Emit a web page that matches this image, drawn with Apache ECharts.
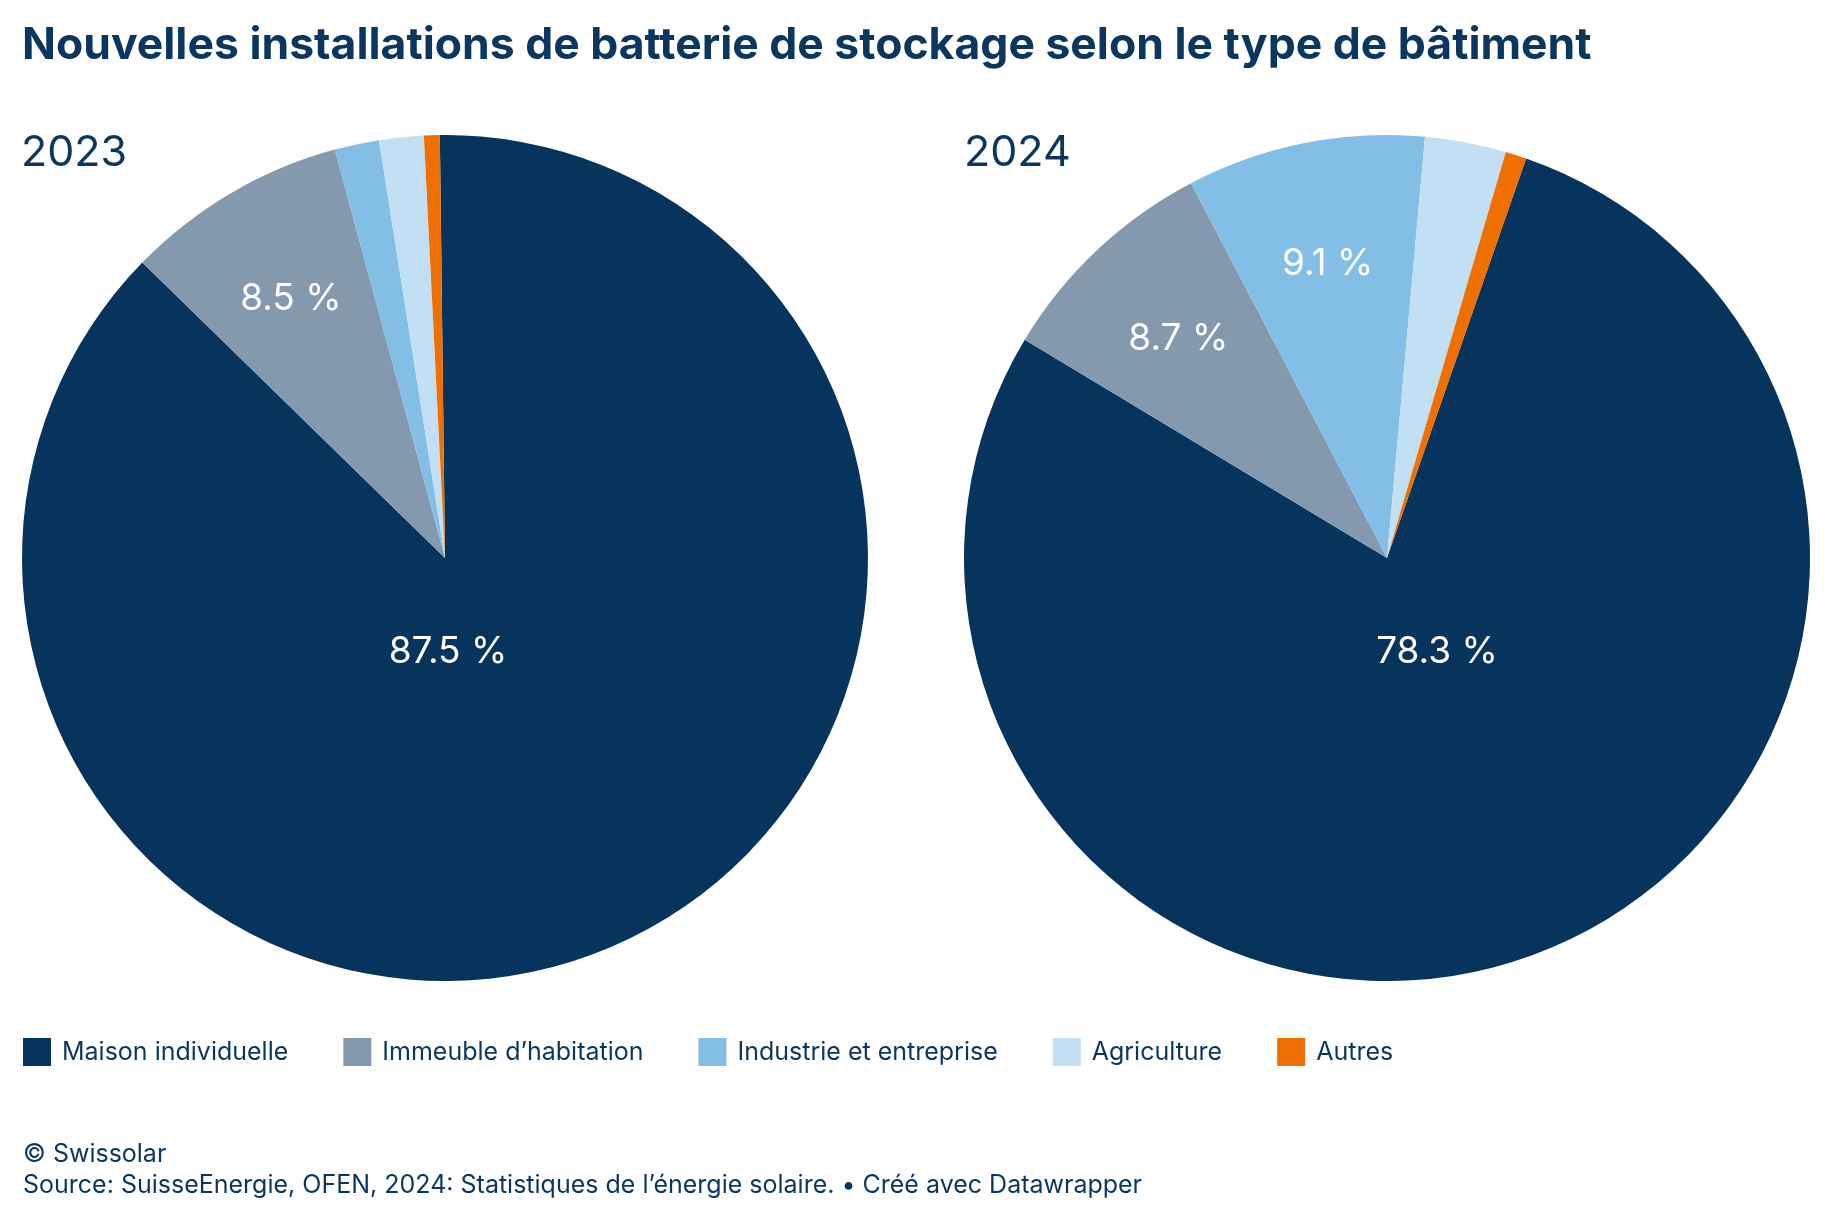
<!DOCTYPE html>
<html>
<head>
<meta charset="utf-8">
<script src="https://cdn.jsdelivr.net/npm/echarts@6/dist/echarts.min.js"></script>
<style>
  html, body { margin: 0; padding: 0; background: #fff; }
  #chart { width: 1832px; height: 1220px; }
</style>
</head>
<body>
<div id="chart"></div>
<script>
// categories et valeurs (en %)
var categories = ['Maison individuelle', 'Immeuble d\u2019habitation', 'Industrie et entreprise', 'Agriculture', 'Autres'];
var colors = ['#06345c', '#8499ae', '#82bee6', '#c3dff3', '#ef7000'];
var years = ['2023', '2024'];
var values2023 = [87.5, 8.5, 1.7, 1.7, 0.6];
var values2024 = [78.3, 8.7, 9.1, 3.1, 0.8];

var navy = '#0a365f';
var font = 'Inter, Roboto, sans-serif';

function buildData(vals){
	var out = [];
	for(var i=0;i<vals.length;i++){
		out.push({
			name: categories[i],
			value: vals[i],
			itemStyle: {color: colors[i]},
			label: {show: vals[i] >= 5, position: i == 0 ? 'center' : 'inside'}
		});
	}
	return out;
};

// place les etiquettes: la grande part sous le centre, les autres au milieu de la part a ~0.71 du rayon
function makeLayout(vals, startAngle, cx, cy, r, bigDx){
	var total = 0;
	for(var i=0;i<vals.length;i++) total += vals[i];
	return function(params){
		var idx = params.dataIndex;
		if(idx == 0){
			return {x: cx + bigDx, y: cy + 94};
		}
		var cum = 0;
		for(var j=0;j<idx;j++) cum += vals[j];
		var a = (90 - startAngle + (cum + vals[idx]/2) / total * 360) * Math.PI / 180;
		return {x: cx + Math.sin(a)*r*0.72, y: cy - Math.cos(a)*r*0.71};
	};
};

var pieBase = {
	type: 'pie',
	radius: 423,
	clockwise: true,
	avoidLabelOverlap: false,
	silent: true,
	label: {
		color: '#fff',
		fontFamily: font,
		fontSize: 37,
		fontWeight: 'normal',
		align: 'center',
		verticalAlign: 'middle',
		formatter: function(p){ return p.value.toFixed(1) + ' %'; }
	},
	labelLine: {show: false},
	itemStyle: {borderWidth: 0}
};

var chart = echarts.init(document.getElementById('chart'));
var option = {
	backgroundColor: '#fff',
	animation: false,
	title: [
		{
			text: 'Nouvelles installations de batterie de stockage selon le type de b\u00e2timent',
			left: 22, top: 24, padding: 0,
			textStyle: {color: navy, fontFamily: font, fontSize: 44.5, fontWeight: 'bold', lineHeight: 44}
		},
		{
			text: years[0], left: 21, top: 132, padding: 0,
			textStyle: {color: navy, fontFamily: font, fontSize: 43, fontWeight: 'normal', lineHeight: 43}
		},
		{
			text: years[1], left: 964, top: 132, padding: 0,
			textStyle: {color: navy, fontFamily: font, fontSize: 43, fontWeight: 'normal', lineHeight: 43}
		},
		{
			text: '\u00a9 Swissolar\nSource: SuisseEnergie, OFEN, 2024: Statistiques de l\u2019\u00e9nergie solaire. \u2022 Cr\u00e9\u00e9 avec Datawrapper',
			left: 23, top: 1139, padding: 0,
			textStyle: {color: navy, fontFamily: font, fontSize: 25, fontWeight: 'normal', lineHeight: 31}
		}
	],
	legend: {
		data: categories,
		left: 23, top: 1038,
		orient: 'horizontal',
		icon: 'rect',
		itemWidth: 28, itemHeight: 28,
		itemGap: 55,
		selectedMode: false,
		padding: 0,
		itemStyle: {borderWidth: 0},
		textStyle: {color: navy, fontFamily: font, fontSize: 25, padding: [0, 0, 0, 6]}
	},
	series: [
		echarts.util.merge({
			name: years[0],
			center: [445, 558],
			startAngle: 90.7,
			data: buildData(values2023),
			labelLayout: makeLayout(values2023, 90.7, 445, 558, 423, 3)
		}, pieBase),
		echarts.util.merge({
			name: years[1],
			center: [1387, 558],
			startAngle: 70.8,
			data: buildData(values2024),
			labelLayout: makeLayout(values2024, 70.8, 1387, 558, 423, 50)
		}, pieBase)
	]
};
chart.setOption(option);
</script>
</body>
</html>
